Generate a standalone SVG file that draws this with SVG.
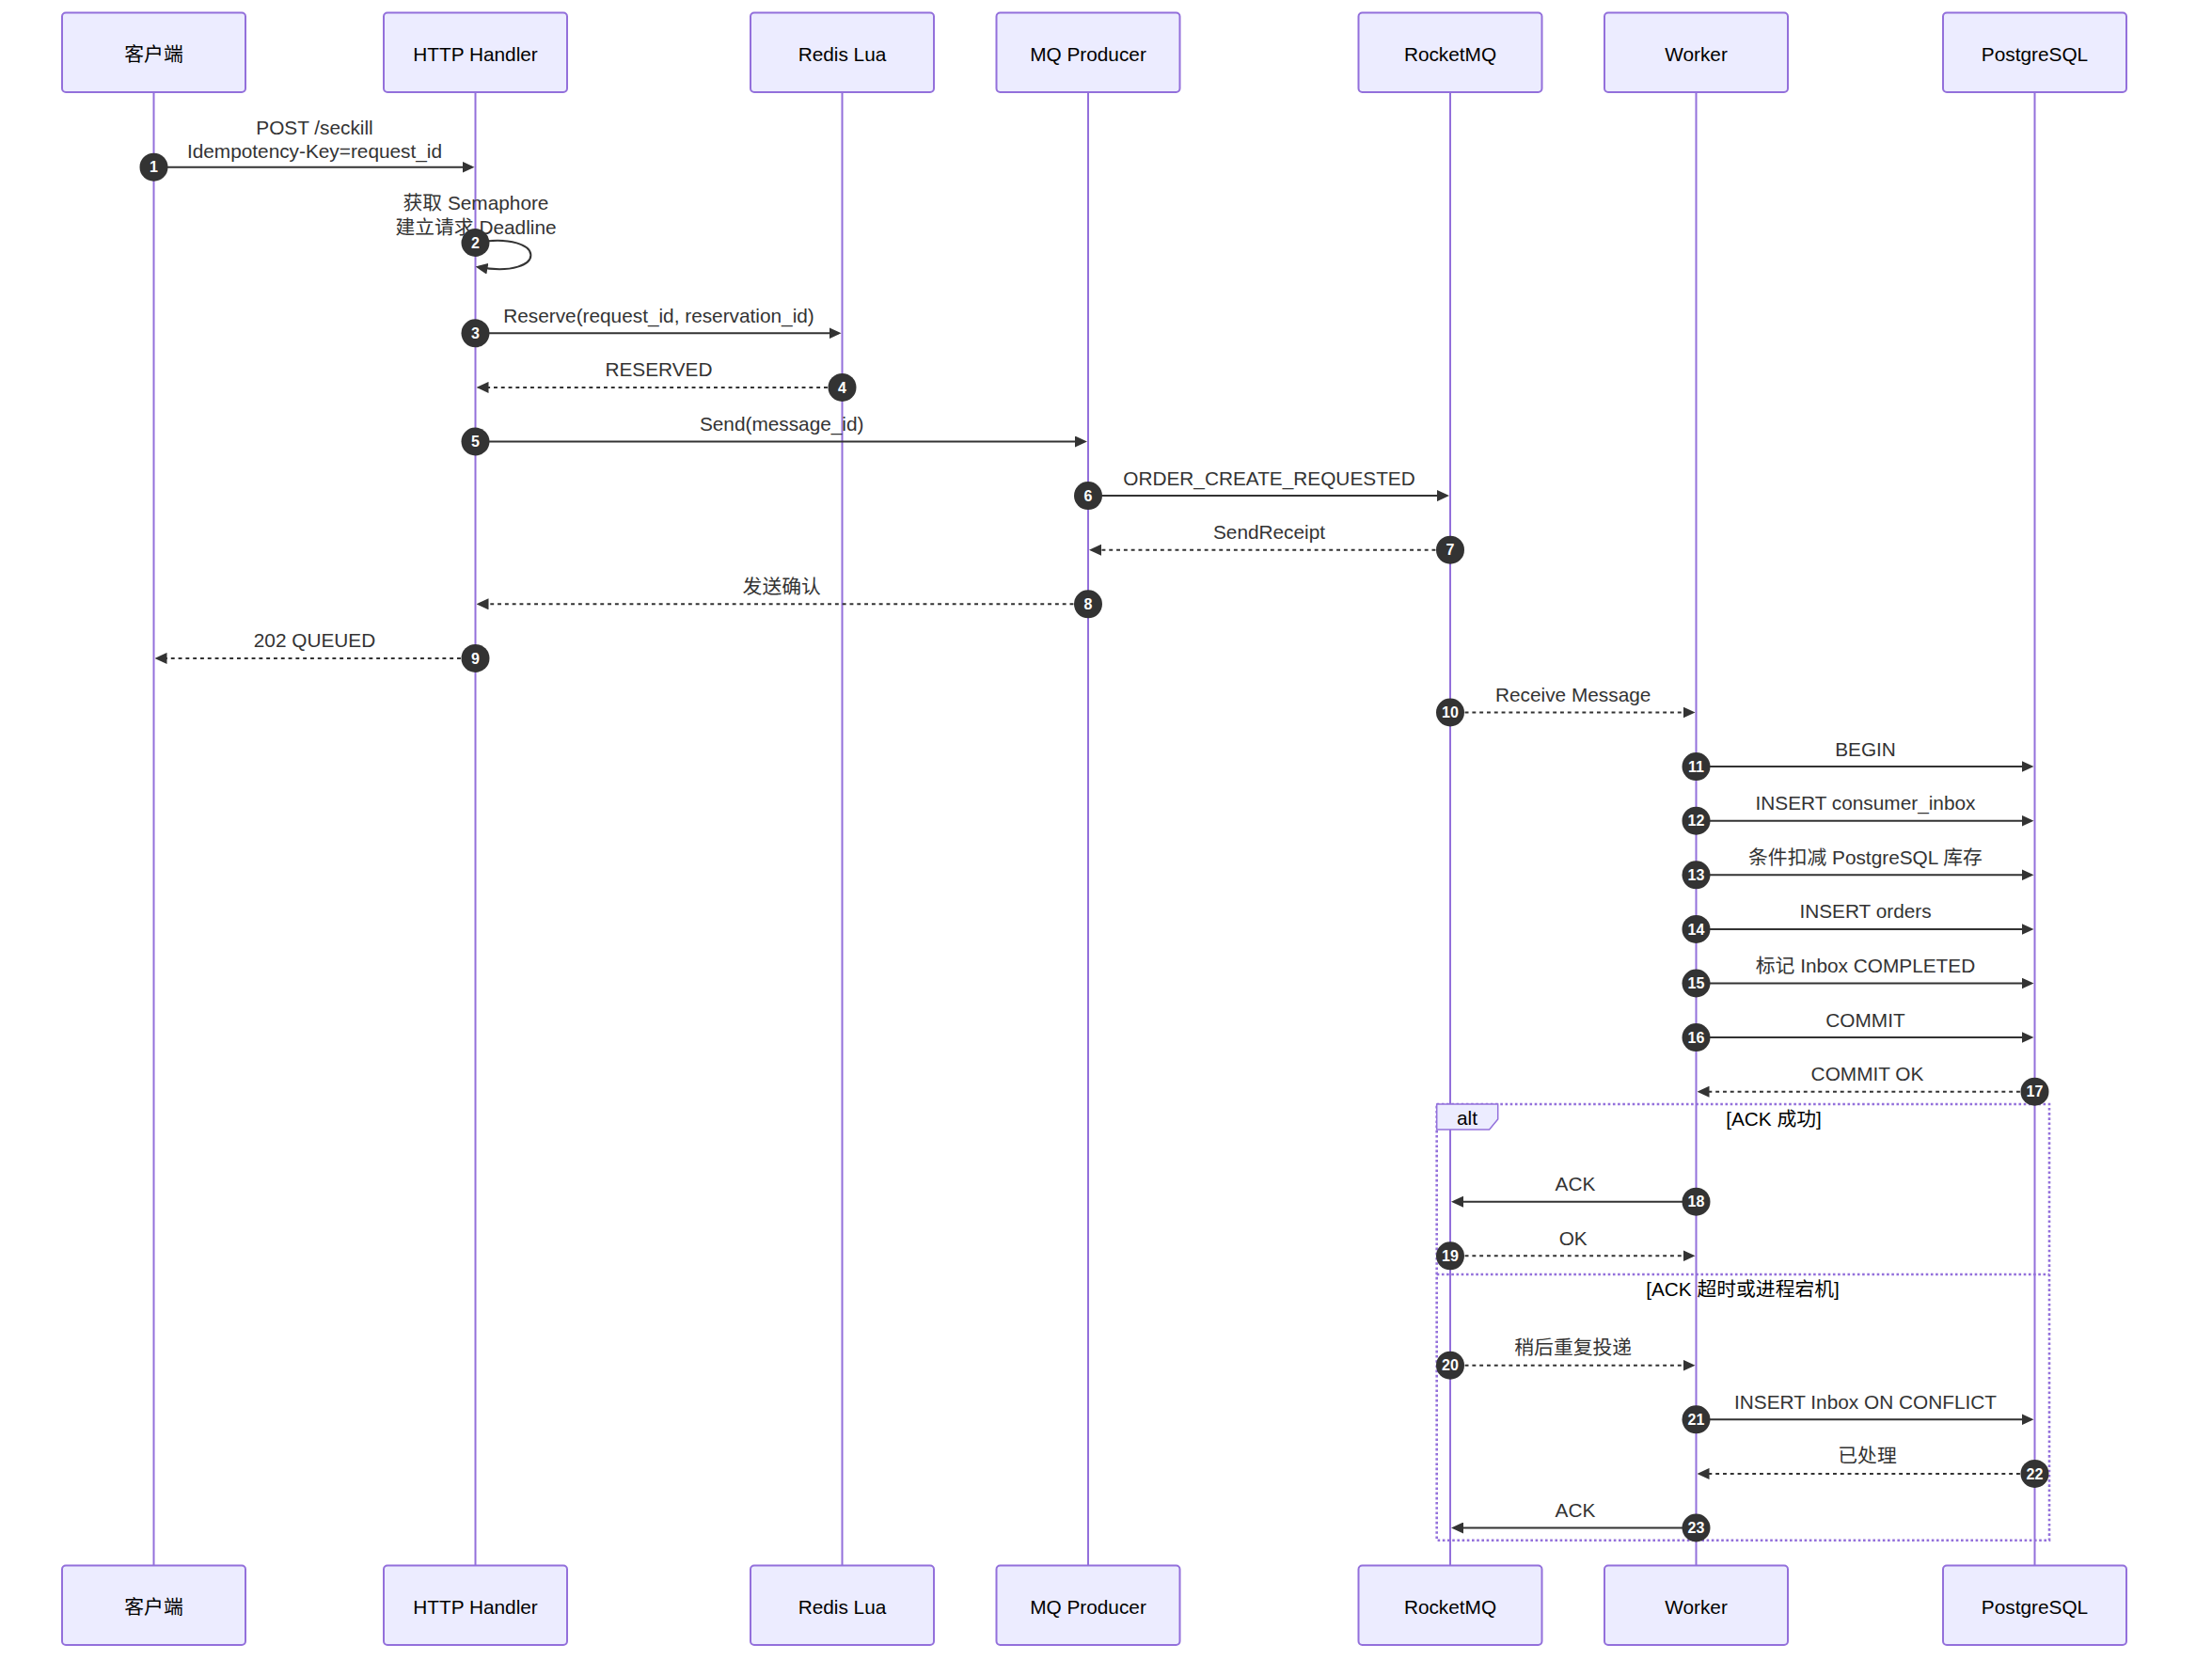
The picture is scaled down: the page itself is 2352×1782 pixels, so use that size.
<svg xmlns="http://www.w3.org/2000/svg" width="2352" height="1782" viewBox="0 0 2352 1782">
<style>
  .actor { fill: #ECECFF; stroke: #9370DB; stroke-width: 2; }
  .actor-text { font-family: "Liberation Sans", "Noto Sans CJK SC", sans-serif; font-size: 20.8px; fill: #000; text-anchor: middle; }
  .lifeline { stroke: #9370DB; stroke-width: 2; }
  .msg { stroke: #333; stroke-width: 2; fill: none; }
  .dashed { stroke-dasharray: 3.9 3.9; }
  .label { font-family: "Liberation Sans", "Noto Sans CJK SC", sans-serif; font-size: 20.8px; fill: #333; text-anchor: middle; }
  .num-c { fill: #333; }
  .num-t { font-family: "Liberation Sans", sans-serif; font-size: 16px; font-weight: bold; fill: #fff; text-anchor: middle; }
  .loop-line { stroke: #9370DB; stroke-width: 2.6; stroke-dasharray: 2.6 2.6; fill: none; }
  .label-box { fill: #ECECFF; stroke: #9370DB; stroke-width: 1.5; }
  .loop-text { font-family: "Liberation Sans", "Noto Sans CJK SC", sans-serif; font-size: 20.8px; fill: #000; text-anchor: middle; }
</style>
<defs>
  <marker id="arrow" markerUnits="userSpaceOnUse" markerWidth="13" markerHeight="12" refX="10" refY="6" orient="auto">
    <path d="M0,0 L13,6 L0,12 z" fill="#333"/>
  </marker>
</defs>
<rect width="2352" height="1782" fill="#fff"/>

<g id="lifelines">
  <line class="lifeline" x1="163.5" y1="98" x2="163.5" y2="1664"/>
  <line class="lifeline" x1="505.5" y1="98" x2="505.5" y2="1664"/>
  <line class="lifeline" x1="895.5" y1="98" x2="895.5" y2="1664"/>
  <line class="lifeline" x1="1157" y1="98" x2="1157" y2="1664"/>
  <line class="lifeline" x1="1542" y1="98" x2="1542" y2="1664"/>
  <line class="lifeline" x1="1803.5" y1="98" x2="1803.5" y2="1664"/>
  <line class="lifeline" x1="2163.5" y1="98" x2="2163.5" y2="1664"/>
</g>

<g id="actor-client">
  <rect class="actor" x="66" y="13.5" width="195" height="84.5" rx="4"/>
  <text class="actor-text" x="163.5" y="64.5">客户端</text>
  <rect class="actor" x="66" y="1664.5" width="195" height="84.5" rx="4"/>
  <text class="actor-text" x="163.5" y="1715.5">客户端</text>
</g>
<g id="actor-http">
  <rect class="actor" x="408" y="13.5" width="195" height="84.5" rx="4"/>
  <text class="actor-text" x="505.5" y="64.5">HTTP Handler</text>
  <rect class="actor" x="408" y="1664.5" width="195" height="84.5" rx="4"/>
  <text class="actor-text" x="505.5" y="1715.5">HTTP Handler</text>
</g>
<g id="actor-redis">
  <rect class="actor" x="798" y="13.5" width="195" height="84.5" rx="4"/>
  <text class="actor-text" x="895.5" y="64.5">Redis Lua</text>
  <rect class="actor" x="798" y="1664.5" width="195" height="84.5" rx="4"/>
  <text class="actor-text" x="895.5" y="1715.5">Redis Lua</text>
</g>
<g id="actor-mqp">
  <rect class="actor" x="1059.5" y="13.5" width="195" height="84.5" rx="4"/>
  <text class="actor-text" x="1157" y="64.5">MQ Producer</text>
  <rect class="actor" x="1059.5" y="1664.5" width="195" height="84.5" rx="4"/>
  <text class="actor-text" x="1157" y="1715.5">MQ Producer</text>
</g>
<g id="actor-rocketmq">
  <rect class="actor" x="1444.5" y="13.5" width="195" height="84.5" rx="4"/>
  <text class="actor-text" x="1542" y="64.5">RocketMQ</text>
  <rect class="actor" x="1444.5" y="1664.5" width="195" height="84.5" rx="4"/>
  <text class="actor-text" x="1542" y="1715.5">RocketMQ</text>
</g>
<g id="actor-worker">
  <rect class="actor" x="1706" y="13.5" width="195" height="84.5" rx="4"/>
  <text class="actor-text" x="1803.5" y="64.5">Worker</text>
  <rect class="actor" x="1706" y="1664.5" width="195" height="84.5" rx="4"/>
  <text class="actor-text" x="1803.5" y="1715.5">Worker</text>
</g>
<g id="actor-postgres">
  <rect class="actor" x="2066" y="13.5" width="195" height="84.5" rx="4"/>
  <text class="actor-text" x="2163.5" y="64.5">PostgreSQL</text>
  <rect class="actor" x="2066" y="1664.5" width="195" height="84.5" rx="4"/>
  <text class="actor-text" x="2163.5" y="1715.5">PostgreSQL</text>
</g>

<g id="alt-block">
  <rect class="loop-line" x="1527.7" y="1174" width="651.3" height="463.7"/>
  <line class="loop-line" x1="1527.7" y1="1355" x2="2179" y2="1355"/>
  <polygon class="label-box" points="1527.7,1174 1592.7,1174 1592.7,1190 1583.6,1201 1527.7,1201"/>
  <text class="loop-text" x="1560" y="1196">alt</text>
  <text class="loop-text" x="1886" y="1197">[ACK 成功]</text>
  <text class="loop-text" x="1853" y="1378">[ACK 超时或进程宕机]</text>
</g>

<g id="connectors">
  <text class="label" x="334.5" y="143">POST /seckill</text>
  <text class="label" x="334.5" y="168">Idempotency-Key=request_id</text>
  <line class="msg" x1="163.5" y1="177.7" x2="501.5" y2="177.7" marker-end="url(#arrow)"/>
  <text class="label" x="506" y="223">获取 Semaphore</text>
  <text class="label" x="506" y="249">建立请求 Deadline</text>
  <path class="msg" d="M505.5,258 C583.5,245 583.5,297 508.5,284" marker-end="url(#arrow)"/>
  <text class="label" x="700.5" y="342.8">Reserve(request_id, reservation_id)</text>
  <line class="msg" x1="505.5" y1="354.3" x2="891.5" y2="354.3" marker-end="url(#arrow)"/>
  <text class="label" x="700.5" y="400.4">RESERVED</text>
  <line class="msg dashed" x1="895.5" y1="411.9" x2="509.5" y2="411.9" marker-end="url(#arrow)"/>
  <text class="label" x="831.2" y="458">Send(message_id)</text>
  <line class="msg" x1="505.5" y1="469.5" x2="1153" y2="469.5" marker-end="url(#arrow)"/>
  <text class="label" x="1349.5" y="515.6">ORDER_CREATE_REQUESTED</text>
  <line class="msg" x1="1157" y1="527.1" x2="1538" y2="527.1" marker-end="url(#arrow)"/>
  <text class="label" x="1349.5" y="573.2">SendReceipt</text>
  <line class="msg dashed" x1="1542" y1="584.7" x2="1161" y2="584.7" marker-end="url(#arrow)"/>
  <text class="label" x="831.2" y="630.8">发送确认</text>
  <line class="msg dashed" x1="1157" y1="642.3" x2="509.5" y2="642.3" marker-end="url(#arrow)"/>
  <text class="label" x="334.5" y="688.4">202 QUEUED</text>
  <line class="msg dashed" x1="505.5" y1="699.9" x2="167.5" y2="699.9" marker-end="url(#arrow)"/>
  <text class="label" x="1672.7" y="746">Receive Message</text>
  <line class="msg dashed" x1="1542" y1="757.5" x2="1799.5" y2="757.5" marker-end="url(#arrow)"/>
  <text class="label" x="1983.5" y="803.6">BEGIN</text>
  <line class="msg" x1="1803.5" y1="815.1" x2="2159.5" y2="815.1" marker-end="url(#arrow)"/>
  <text class="label" x="1983.5" y="861.2">INSERT consumer_inbox</text>
  <line class="msg" x1="1803.5" y1="872.7" x2="2159.5" y2="872.7" marker-end="url(#arrow)"/>
  <text class="label" x="1983.5" y="918.8">条件扣减 PostgreSQL 库存</text>
  <line class="msg" x1="1803.5" y1="930.3" x2="2159.5" y2="930.3" marker-end="url(#arrow)"/>
  <text class="label" x="1983.5" y="976.4">INSERT orders</text>
  <line class="msg" x1="1803.5" y1="987.9" x2="2159.5" y2="987.9" marker-end="url(#arrow)"/>
  <text class="label" x="1983.5" y="1034">标记 Inbox COMPLETED</text>
  <line class="msg" x1="1803.5" y1="1045.5" x2="2159.5" y2="1045.5" marker-end="url(#arrow)"/>
  <text class="label" x="1983.5" y="1091.6">COMMIT</text>
  <line class="msg" x1="1803.5" y1="1103.1" x2="2159.5" y2="1103.1" marker-end="url(#arrow)"/>
  <text class="label" x="1985.5" y="1149.2">COMMIT OK</text>
  <line class="msg dashed" x1="2163.5" y1="1160.7" x2="1807.5" y2="1160.7" marker-end="url(#arrow)"/>
  <text class="label" x="1675" y="1266.2">ACK</text>
  <line class="msg" x1="1803.5" y1="1277.7" x2="1546" y2="1277.7" marker-end="url(#arrow)"/>
  <text class="label" x="1672.7" y="1323.8">OK</text>
  <line class="msg dashed" x1="1542" y1="1335.3" x2="1799.5" y2="1335.3" marker-end="url(#arrow)"/>
  <text class="label" x="1672.7" y="1440.2">稍后重复投递</text>
  <line class="msg dashed" x1="1542" y1="1451.7" x2="1799.5" y2="1451.7" marker-end="url(#arrow)"/>
  <text class="label" x="1983.5" y="1497.8">INSERT Inbox ON CONFLICT</text>
  <line class="msg" x1="1803.5" y1="1509.3" x2="2159.5" y2="1509.3" marker-end="url(#arrow)"/>
  <text class="label" x="1985.5" y="1555.4">已处理</text>
  <line class="msg dashed" x1="2163.5" y1="1566.9" x2="1807.5" y2="1566.9" marker-end="url(#arrow)"/>
  <text class="label" x="1675" y="1613">ACK</text>
  <line class="msg" x1="1803.5" y1="1624.5" x2="1546" y2="1624.5" marker-end="url(#arrow)"/>
</g>

<g id="sequence-numbers">
  <circle class="num-c" cx="163.5" cy="177.7" r="15"/><text class="num-t" x="163.5" y="183.4">1</text>
  <circle class="num-c" cx="505.5" cy="258" r="15"/><text class="num-t" x="505.5" y="263.7">2</text>
  <circle class="num-c" cx="505.5" cy="354.3" r="15"/><text class="num-t" x="505.5" y="360">3</text>
  <circle class="num-c" cx="895.5" cy="411.9" r="15"/><text class="num-t" x="895.5" y="417.6">4</text>
  <circle class="num-c" cx="505.5" cy="469.5" r="15"/><text class="num-t" x="505.5" y="475.2">5</text>
  <circle class="num-c" cx="1157" cy="527.1" r="15"/><text class="num-t" x="1157" y="532.8">6</text>
  <circle class="num-c" cx="1542" cy="584.7" r="15"/><text class="num-t" x="1542" y="590.4">7</text>
  <circle class="num-c" cx="1157" cy="642.3" r="15"/><text class="num-t" x="1157" y="648">8</text>
  <circle class="num-c" cx="505.5" cy="699.9" r="15"/><text class="num-t" x="505.5" y="705.6">9</text>
  <circle class="num-c" cx="1542" cy="757.5" r="15"/><text class="num-t" x="1542" y="763.2">10</text>
  <circle class="num-c" cx="1803.5" cy="815.1" r="15"/><text class="num-t" x="1803.5" y="820.8">11</text>
  <circle class="num-c" cx="1803.5" cy="872.7" r="15"/><text class="num-t" x="1803.5" y="878.4">12</text>
  <circle class="num-c" cx="1803.5" cy="930.3" r="15"/><text class="num-t" x="1803.5" y="936">13</text>
  <circle class="num-c" cx="1803.5" cy="987.9" r="15"/><text class="num-t" x="1803.5" y="993.6">14</text>
  <circle class="num-c" cx="1803.5" cy="1045.5" r="15"/><text class="num-t" x="1803.5" y="1051.2">15</text>
  <circle class="num-c" cx="1803.5" cy="1103.1" r="15"/><text class="num-t" x="1803.5" y="1108.8">16</text>
  <circle class="num-c" cx="2163.5" cy="1160.7" r="15"/><text class="num-t" x="2163.5" y="1166.4">17</text>
  <circle class="num-c" cx="1803.5" cy="1277.7" r="15"/><text class="num-t" x="1803.5" y="1283.4">18</text>
  <circle class="num-c" cx="1542" cy="1335.3" r="15"/><text class="num-t" x="1542" y="1341">19</text>
  <circle class="num-c" cx="1542" cy="1451.7" r="15"/><text class="num-t" x="1542" y="1457.4">20</text>
  <circle class="num-c" cx="1803.5" cy="1509.3" r="15"/><text class="num-t" x="1803.5" y="1515">21</text>
  <circle class="num-c" cx="2163.5" cy="1566.9" r="15"/><text class="num-t" x="2163.5" y="1572.6">22</text>
  <circle class="num-c" cx="1803.5" cy="1624.5" r="15"/><text class="num-t" x="1803.5" y="1630.2">23</text>
</g>
</svg>
